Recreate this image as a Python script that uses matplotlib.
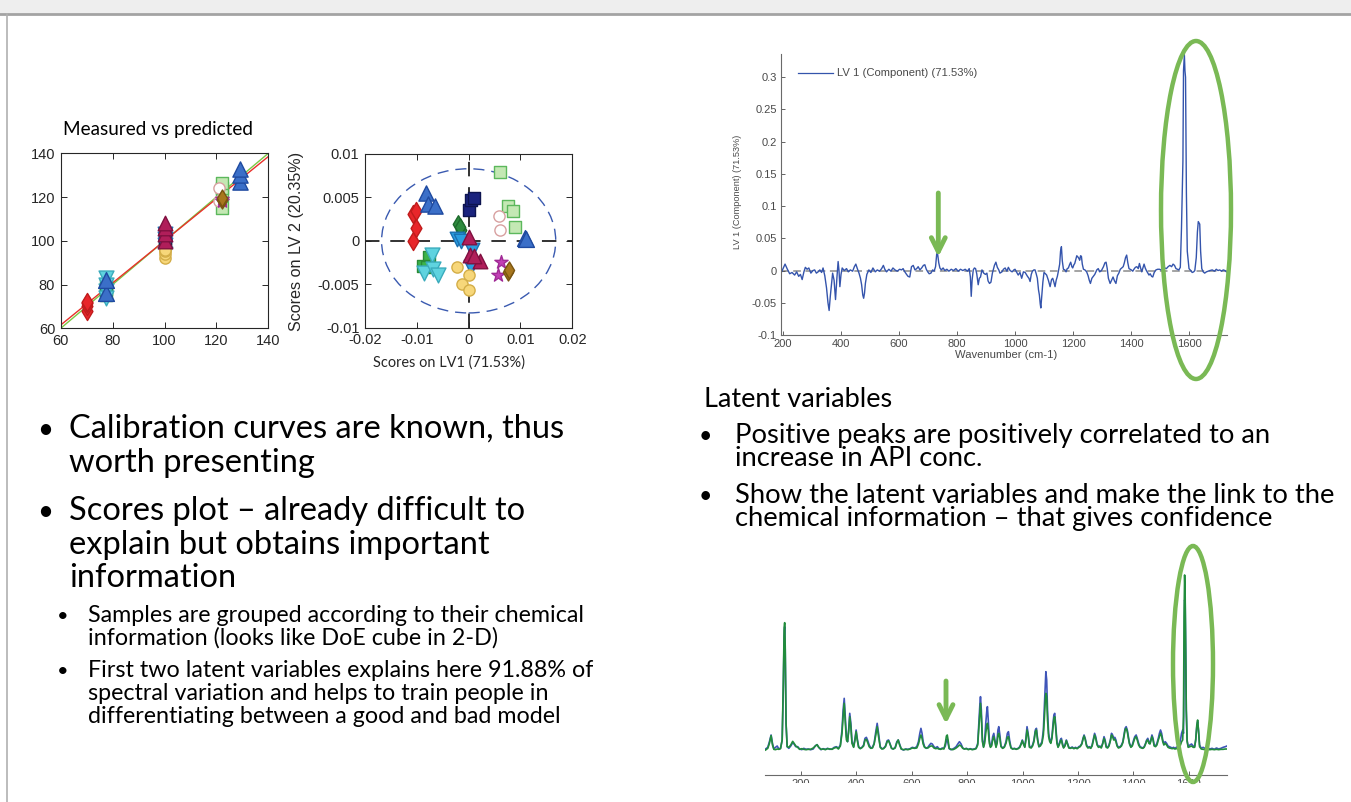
import matplotlib
matplotlib.use("Agg")
import matplotlib.pyplot as plt
from matplotlib.patches import Ellipse, Rectangle

# ---- data ----
# calibration (measured vs predicted) and scores, one entry per sample group
measured = [
    [70, 70, 70, 70],            # red diamonds
    [129, 129, 129],             # blue triangles
    [100, 100, 100],             # navy squares
    [100, 100, 100],             # dark green diamonds
    [100, 100, 100, 100],        # blue down triangles
    [100, 100, 100, 100],        # yellow circles
    [100, 100, 100, 100],        # maroon triangles
    [122, 122, 122, 122],        # light green squares
    [121, 121],                  # pink open circles
    [122, 122],                  # magenta stars
    [122, 122],                  # brown diamonds
    [77.5, 77.5, 77.5],          # green squares
    [77.5, 77.5, 77.5, 77.5],    # cyan down triangles
    [77.5, 77.5],                # blue triangles (right)
]
predicted = [
    [68, 70, 71.5, 72],
    [127, 130, 133],
    [100, 102, 101],
    [97, 99, 98],
    [94, 98, 101, 103],
    [92, 94, 95.5, 96],
    [100, 103, 106, 108],
    [115, 121, 124, 126.5],
    [118, 124],
    [118, 119],
    [118.5, 119.5],
    [75, 78, 80],
    [74, 77, 80, 83],
    [76, 82],
]
score_lv1 = [
    [-0.0107, -0.0102, -0.0108, -0.0101],
    [-0.0082, -0.0079, -0.0064],
    [0.0000, 0.0004, 0.0011],
    [-0.0020, -0.0014, -0.0017],
    [-0.0023, 0.0006, 0.0005, -0.0015],
    [-0.0023, 0.0000, -0.0012, 0.0000],
    [0.0000, 0.0003, 0.0022, 0.0010],
    [0.0060, 0.0075, 0.0086, 0.0089],
    [0.0059, 0.0060],
    [0.0062, 0.0057],
    [0.0075, 0.0077],
    [-0.0077, -0.0089, -0.0081],
    [-0.0071, -0.0087, -0.0069, -0.0059],
    [0.0108, 0.0110],
]
score_lv2 = [
    [0.0000, 0.0015, 0.0031, 0.0034],
    [0.0055, 0.0043, 0.0040],
    [0.0035, 0.0047, 0.0049],
    [0.0019, 0.0013, 0.0016],
    [0.0002, -0.0011, -0.0030, 0.0000],
    [-0.0030, -0.0039, -0.0050, -0.0057],
    [0.0005, -0.0016, -0.0023, -0.0017],
    [0.0079, 0.0040, 0.0034, 0.0016],
    [0.0029, 0.0013],
    [-0.0024, -0.0039],
    [-0.0036, -0.0033],
    [-0.0019, -0.0029, -0.0030],
    [-0.0016, -0.0037, -0.0032, -0.0039],
    [0.0003, 0.0002],
]
group_style = [
    ("d", "#e8262a", "#c01c1c", 85),
    ("^", "#3b6fc8", "#1f4aa0", 120),
    ("s", "#1a237e", "#0d1450", 70),
    ("d", "#2e8b3e", "#1e6a2c", 80),
    ("v", "#2a9de0", "#1a6fb0", 110),
    ("o", "#f7d77a", "#d4ae48", 65),
    ("^", "#b01e5a", "#801040", 110),
    ("s", "#c4e8b4", "#5cb85c", 75),
    ("o", "white", "#d8a0a0", 65),
    ("*", "#c23fb5", "#a02a95", 100),
    ("d", "#a8771e", "#7a5510", 75),
    ("s", "#3cb34a", "#2a8a35", 75),
    ("v", "#5fd3df", "#3aabbc", 115),
    ("^", "#3b6fc8", "#1f4aa0", 130),
]
fit_x = [60, 140]
fit_red = [61.5, 138.5]
fit_green = [60, 140]
ellipse_lv1, ellipse_lv2 = 0.0168, 0.0083

cal_ticks = [60, 80, 100, 120, 140]
sc_xticks = [-0.02, -0.01, 0, 0.01, 0.02]
sc_xlabels = ["-0.02", "-0.01", "0", "0.01", "0.02"]
sc_yticks = [-0.01, -0.005, 0, 0.005, 0.01]
sc_ylabels = ["-0.01", "-0.005", "0", "0.005", "0.01"]

# LV1 loading (wavenumber, value)
lv1_trace = [
    (193, -0.004), (207, 0.010), (215, 0.002), (223, -0.005), (231, -0.003), (240, -0.007),
    (247, -0.002), (254, -0.009), (260, -0.006), (266, -0.014), (272, -0.002), (277, 0.005),
    (283, 0.002), (289, 0.004), (296, -0.004), (303, 0.000), (309, 0.001), (315, -0.004),
    (321, -0.002), (327, 0.001), (333, -0.003), (338, 0.004), (344, -0.008), (350, -0.027),
    (355, -0.050), (359, -0.062), (363, -0.040), (367, -0.022), (371, -0.004), (376, -0.015),
    (381, -0.045), (386, -0.010), (390, 0.014), (393, 0.000), (396, -0.025), (400, -0.006),
    (404, 0.004), (411, 0.000), (419, 0.003), (425, -0.002), (432, 0.001), (440, -0.001),
    (446, 0.006), (451, 0.010), (457, 0.002), (462, -0.004), (467, -0.012), (471, -0.022),
    (475, -0.038), (478, -0.043), (481, -0.035), (484, -0.020), (489, -0.006), (496, 0.001),
    (503, -0.003), (510, 0.004), (518, -0.002), (525, 0.001), (533, -0.001), (540, 0.003),
    (546, 0.008), (551, 0.002), (557, -0.002), (565, 0.002), (572, -0.001), (579, 0.004),
    (586, 0.001), (594, -0.001), (602, 0.002), (609, 0.001), (614, 0.003), (620, -0.002),
    (626, -0.006), (631, -0.009), (637, -0.010), (643, 0.006), (649, 0.008), (655, 0.001),
    (661, 0.003), (666, 0.006), (672, 0.001), (678, 0.004), (684, 0.008), (689, 0.009),
    (694, 0.002), (699, -0.002), (704, -0.005), (710, -0.004), (716, 0.001), (721, -0.001),
    (726, 0.006), (730, 0.026), (733, 0.026), (737, 0.012), (741, 0.004), (746, 0.001),
    (752, 0.004), (758, 0.000), (765, 0.002), (772, -0.001), (780, 0.002), (788, 0.000),
    (796, 0.003), (804, -0.001), (812, 0.002), (820, 0.000), (828, 0.002), (836, -0.001),
    (842, 0.003), (846, -0.010), (849, -0.040), (852, -0.015), (856, 0.001), (860, 0.004),
    (864, 0.003), (868, -0.005), (873, -0.022), (877, -0.012), (881, -0.010), (886, 0.001),
    (892, -0.004), (898, -0.006), (903, -0.004), (907, -0.016), (912, -0.020), (917, -0.018),
    (922, -0.004), (929, 0.008), (934, 0.013), (939, 0.005), (944, 0.001), (948, -0.004),
    (955, -0.002), (960, 0.002), (966, 0.004), (972, -0.001), (977, 0.005), (983, 0.000),
    (990, -0.002), (996, 0.001), (1000, 0.002), (1006, -0.003), (1011, -0.007), (1017, -0.003),
    (1023, -0.012), (1029, -0.002), (1035, -0.003), (1043, -0.009), (1048, -0.012), (1052, -0.017),
    (1056, -0.006), (1060, -0.001), (1065, 0.001), (1069, 0.001), (1073, -0.005), (1077, -0.012),
    (1081, -0.030), (1084, -0.038), (1087, -0.052), (1089, -0.058), (1092, -0.040), (1096, -0.018),
    (1100, -0.003), (1105, -0.005), (1109, -0.007), (1115, -0.015), (1121, -0.025), (1126, -0.014),
    (1130, -0.012), (1134, -0.018), (1138, -0.025), (1142, -0.015), (1146, -0.009), (1150, 0.000),
    (1154, 0.010), (1157, 0.030), (1160, 0.037), (1163, 0.015), (1167, 0.002), (1172, 0.001),
    (1176, -0.002), (1180, 0.003), (1184, 0.004), (1188, 0.009), (1192, 0.013), (1196, 0.006),
    (1199, 0.004), (1203, 0.009), (1206, 0.011), (1210, 0.018), (1213, 0.023), (1217, 0.021),
    (1220, 0.019), (1223, 0.016), (1226, 0.023), (1229, 0.022), (1232, 0.010), (1236, 0.002),
    (1241, 0.001), (1247, -0.002), (1252, -0.008), (1256, -0.015), (1260, -0.020), (1265, -0.012),
    (1270, -0.009), (1275, -0.006), (1282, 0.001), (1287, 0.003), (1292, -0.002), (1298, 0.000),
    (1305, 0.006), (1310, 0.012), (1314, 0.013), (1318, 0.003), (1322, -0.012), (1328, -0.020),
    (1333, -0.015), (1338, -0.010), (1343, -0.016), (1348, -0.020), (1353, -0.008), (1358, -0.004),
    (1363, 0.002), (1368, 0.004), (1373, 0.006), (1377, 0.012), (1381, 0.020), (1385, 0.024),
    (1389, 0.012), (1393, 0.003), (1397, 0.002), (1401, 0.001), (1406, -0.001), (1410, 0.002),
    (1415, 0.005), (1420, 0.006), (1425, 0.003), (1429, 0.011), (1433, 0.004), (1437, -0.002),
    (1441, 0.004), (1445, 0.010), (1449, 0.004), (1453, 0.000), (1458, -0.004), (1462, -0.007),
    (1466, -0.005), (1471, -0.009), (1475, -0.010), (1480, -0.003), (1486, 0.001), (1492, 0.002),
    (1498, 0.002), (1504, 0.001), (1510, 0.002), (1516, 0.004), (1522, 0.003), (1528, 0.006),
    (1534, 0.008), (1540, 0.006), (1545, 0.010), (1550, 0.008), (1555, 0.003), (1560, 0.002),
    (1565, 0.001), (1570, 0.005), (1574, 0.065), (1577, 0.130), (1579, 0.170), (1581, 0.310),
    (1584, 0.335), (1586, 0.310), (1588, 0.300), (1591, 0.120), (1594, 0.030), (1600, 0.003),
    (1606, 0.000), (1611, -0.003), (1616, -0.002), (1620, 0.000), (1625, 0.020), (1629, 0.060),
    (1632, 0.076), (1637, 0.072), (1640, 0.030), (1644, 0.003), (1649, -0.002), (1654, -0.004),
    (1660, -0.002), (1666, -0.001), (1672, 0.000), (1680, 0.001), (1688, -0.001), (1694, 0.002),
    (1700, 0.000), (1706, 0.001), (1712, -0.001), (1718, 0.001), (1724, 0.000), (1729, -0.002),
]
lv_xticks = [200, 400, 600, 800, 1000, 1200, 1400, 1600]
lv_yticks = [-0.1, -0.05, 0, 0.05, 0.1, 0.15, 0.2, 0.25, 0.3]
lv_ylabels = ["-0.1", "-0.05", "0", "0.05", "0.1", "0.15", "0.2", "0.25", "0.3"]

# raw spectra (wavenumber, blue, green)
spectra_trace = [
    (72, 0.3, 0.0), (80, 0.8, 0.5), (86, 2.5, 2.0), (92, 4.5, 4.3), (97, 2.0, 1.5), (102, 0.3, 0.2),
    (108, 0.8, 0.1), (114, 1.2, 0.3), (120, 0.3, 0.2), (126, 0.5, 0.4), (132, 3.0, 3.0), (136, 18.0, 20.0),
    (139, 34.0, 36.0), (141, 37.0, 38.2), (143, 30.0, 31.0), (146, 8.0, 8.0), (150, 1.0, 1.0), (156, 0.5, 0.8),
    (163, 1.2, 1.5), (170, 2.2, 2.6), (175, 1.8, 2.0), (181, 1.0, 1.2), (188, 1.0, 0.8), (195, 0.3, 0.2),
    (203, 0.1, 0.4), (210, 0.5, 0.2), (218, 0.2, 0.1), (226, 0.3, 0.2), (235, 0.1, 0.2), (244, 0.3, 0.6),
    (252, 1.3, 1.2), (258, 1.6, 1.6), (264, 0.8, 0.8), (272, 0.1, 0.2), (280, 0.4, 0.3), (288, 0.2, 0.1),
    (296, 0.5, 0.4), (304, 0.2, 0.3), (312, 0.3, 0.2), (320, 0.8, 0.6), (328, 1.0, 0.8), (335, 0.5, 0.3),
    (342, 1.5, 1.2), (348, 6.0, 5.0), (352, 12.0, 10.0), (356, 15.5, 14.0), (360, 10.0, 8.0), (364, 4.0, 3.0),
    (368, 2.5, 2.5), (372, 6.0, 5.5), (376, 11.0, 10.0), (380, 8.0, 7.0), (384, 2.5, 2.0), (390, 1.0, 0.8),
    (395, 3.5, 3.0), (399, 6.0, 5.5), (403, 3.5, 3.0), (408, 1.0, 0.8), (414, 0.5, 0.4), (420, 0.8, 0.7),
    (426, 1.5, 1.2), (431, 3.5, 3.0), (436, 3.8, 3.2), (441, 2.8, 2.2), (446, 1.5, 1.0), (452, 0.6, 0.5),
    (458, 0.8, 0.6), (464, 2.0, 1.8), (470, 5.5, 4.5), (475, 8.0, 7.0), (480, 5.0, 4.0), (486, 1.0, 0.8),
    (492, 0.4, 0.3), (498, 0.5, 0.4), (505, 1.2, 1.0), (511, 2.8, 2.5), (516, 3.0, 2.8), (521, 2.0, 1.8),
    (527, 0.5, 0.5), (533, 0.3, 0.3), (540, 0.8, 0.6), (546, 2.5, 2.2), (551, 3.0, 3.0), (556, 1.8, 1.5),
    (562, 0.3, 0.3), (570, 0.0, 0.1), (578, 0.3, 0.2), (586, 0.2, 0.1), (594, 0.4, 0.3), (602, 0.8, 0.6),
    (610, 0.6, 0.5), (618, 1.0, 0.6), (624, 2.5, 1.8), (629, 5.0, 3.5), (633, 6.5, 4.5), (637, 5.0, 3.5),
    (641, 2.5, 1.8), (646, 1.0, 0.8), (652, 0.5, 0.6), (658, 0.8, 0.6), (664, 1.5, 1.0), (669, 2.0, 1.2),
    (674, 1.8, 1.2), (680, 1.0, 0.6), (686, 0.6, 0.4), (692, 1.0, 0.5), (698, 0.4, 0.3), (704, 0.3, 0.2),
    (710, 0.6, 0.4), (716, 0.5, 0.3), (721, 1.2, 2.0), (725, 3.0, 4.2), (728, 3.2, 4.5), (731, 2.0, 3.0),
    (735, 0.4, 0.5), (741, 0.1, 0.2), (748, 0.3, 0.1), (754, 0.6, 0.3), (760, 1.0, 0.6), (766, 1.8, 1.0),
    (772, 2.5, 1.5), (778, 1.8, 1.2), (784, 0.6, 0.5), (790, 0.3, 0.3), (797, 0.5, 0.4), (804, 0.2, 0.1),
    (811, 0.4, 0.3), (818, 0.2, 0.1), (825, 0.3, 0.2), (832, 0.5, 0.4), (838, 2.0, 1.5), (842, 8.0, 6.5),
    (846, 14.0, 12.0), (848, 16.0, 14.0), (851, 12.0, 10.0), (855, 3.0, 2.5), (859, 1.0, 0.8), (863, 3.0, 2.0),
    (867, 8.0, 5.0), (871, 12.0, 7.5), (873, 13.0, 8.0), (876, 9.0, 6.0), (880, 3.0, 2.0), (884, 1.0, 0.8),
    (888, 1.5, 1.2), (892, 4.0, 3.0), (896, 5.0, 4.0), (900, 3.0, 2.5), (904, 1.0, 0.8), (908, 3.0, 2.0),
    (911, 6.0, 4.5), (914, 7.0, 5.0), (918, 4.5, 3.5), (922, 1.2, 1.0), (928, 0.6, 0.5), (934, 1.0, 0.8),
    (940, 2.5, 2.0), (945, 5.0, 3.8), (949, 5.5, 4.0), (953, 3.0, 2.2), (958, 0.8, 0.6), (964, 0.3, 0.3),
    (970, 0.5, 0.4), (977, 0.3, 0.2), (984, 0.5, 0.4), (990, 1.0, 0.8), (995, 2.0, 1.8), (999, 3.0, 2.8),
    (1003, 2.0, 1.8), (1008, 1.0, 0.8), (1012, 3.5, 3.0), (1016, 7.0, 6.0), (1020, 5.0, 4.5), (1025, 1.0, 0.8),
    (1031, 0.8, 0.6), (1036, 1.5, 1.2), (1041, 3.0, 2.5), (1046, 6.0, 5.5), (1050, 6.5, 6.0), (1054, 3.5, 3.0),
    (1059, 1.0, 1.0), (1064, 1.5, 1.2), (1070, 2.5, 2.0), (1075, 6.0, 4.5), (1079, 14.0, 10.0), (1082, 20.0, 15.0),
    (1084, 23.5, 17.0), (1087, 21.0, 16.0), (1090, 12.0, 9.0), (1094, 5.0, 4.0), (1098, 3.0, 2.5), (1102, 2.5, 2.0),
    (1106, 4.0, 3.5), (1110, 8.0, 7.0), (1113, 10.5, 9.5), (1116, 11.0, 10.0), (1120, 7.0, 6.0), (1124, 2.5, 2.0),
    (1128, 1.0, 0.8), (1132, 1.8, 1.5), (1136, 3.0, 2.5), (1140, 3.5, 3.0), (1144, 2.0, 1.5), (1148, 0.8, 0.6),
    (1153, 1.5, 1.2), (1158, 3.0, 2.8), (1162, 2.0, 1.8), (1167, 0.8, 0.6), (1173, 0.6, 0.5), (1179, 0.9, 0.7),
    (1185, 0.5, 0.4), (1191, 0.8, 0.6), (1197, 0.5, 0.4), (1203, 1.0, 0.8), (1208, 1.2, 1.0), (1214, 2.0, 1.8),
    (1218, 3.5, 3.2), (1222, 4.5, 4.2), (1226, 3.5, 3.2), (1231, 1.5, 1.2), (1236, 0.8, 0.6), (1241, 1.0, 0.8),
    (1246, 0.6, 0.5), (1251, 1.5, 1.2), (1256, 3.5, 3.0), (1260, 5.0, 4.5), (1264, 4.0, 3.5), (1269, 1.8, 1.5),
    (1274, 1.0, 0.8), (1279, 1.2, 1.0), (1284, 0.8, 0.6), (1289, 2.0, 1.8), (1294, 4.0, 3.5), (1298, 3.0, 2.5),
    (1302, 1.0, 0.8), (1307, 0.8, 0.6), (1312, 1.5, 1.2), (1317, 3.0, 2.8), (1321, 5.0, 4.5), (1325, 4.5, 4.0),
    (1329, 3.5, 3.0), (1333, 3.8, 3.2), (1337, 3.0, 2.5), (1341, 1.5, 1.2), (1346, 0.8, 0.6), (1352, 1.0, 0.8),
    (1357, 1.5, 1.2), (1362, 2.5, 2.2), (1366, 4.5, 4.0), (1370, 6.5, 6.0), (1374, 7.0, 6.5), (1378, 6.0, 5.5),
    (1382, 4.0, 3.5), (1386, 2.0, 1.8), (1391, 1.0, 0.8), (1396, 1.5, 1.2), (1401, 3.0, 2.5), (1405, 4.0, 3.5),
    (1410, 4.5, 4.0), (1414, 3.5, 3.0), (1419, 2.0, 1.5), (1424, 1.0, 0.8), (1429, 0.8, 0.6), (1434, 0.6, 0.5),
    (1439, 1.0, 0.8), (1444, 2.0, 1.8), (1448, 3.0, 2.8), (1452, 3.5, 3.0), (1456, 2.5, 2.0), (1460, 2.0, 1.8),
    (1464, 3.5, 3.0), (1467, 4.5, 4.0), (1471, 3.5, 3.0), (1475, 1.5, 1.2), (1480, 1.2, 1.0), (1485, 2.0, 1.5),
    (1490, 3.5, 3.0), (1494, 5.0, 4.0), (1498, 6.0, 5.0), (1502, 5.0, 4.2), (1506, 3.0, 2.5), (1510, 2.0, 1.5),
    (1515, 2.5, 2.0), (1520, 2.0, 1.5), (1525, 1.2, 0.8), (1530, 1.0, 0.6), (1535, 0.8, 0.5), (1540, 0.6, 0.4),
    (1545, 0.8, 0.5), (1550, 0.5, 0.3), (1555, 0.8, 0.4), (1560, 1.0, 0.5), (1565, 1.5, 0.8), (1570, 3.0, 1.5),
    (1574, 5.0, 2.5), (1578, 6.0, 3.0), (1581, 5.0, 10.0), (1583, 25.0, 40.0), (1585, 45.0, 52.5), (1587, 44.0, 46.0),
    (1589, 30.0, 30.0), (1591, 12.0, 12.0), (1594, 3.0, 2.5), (1598, 1.0, 0.8), (1604, 1.5, 1.0), (1610, 1.8, 1.2),
    (1616, 1.2, 0.8), (1621, 1.0, 0.8), (1625, 3.0, 3.0), (1629, 7.0, 7.5), (1632, 8.5, 9.0), (1635, 6.0, 6.0),
    (1639, 1.5, 1.0), (1645, 0.5, 0.3), (1652, 0.8, 0.2), (1660, 0.4, 0.1), (1668, 0.6, 0.2), (1676, 0.3, 0.1),
    (1684, 0.5, 0.2), (1692, 0.2, 0.1), (1700, 0.6, 0.2), (1708, 0.3, 0.1), (1716, 0.5, 0.2), (1724, 0.8, 0.2),
    (1732, 1.0, 0.3), (1738, 1.2, 0.3),
]

# ---- figure ----
W, H = 1351, 802
fig = plt.figure(figsize=(W / 100, H / 100), dpi=100)
MATLAB_FONT = "Liberation Sans"
SLIDE_FONT = "Lato"
GREEN = "#7ab955"


def px_axes(left, top, right, bottom):
    return fig.add_axes([left / W, 1 - bottom / H, (right - left) / W, (bottom - top) / H])


def matlab_box(ax, size):
    for sp in ax.spines.values():
        sp.set_color("#262626")
        sp.set_linewidth(0.8)
    ax.tick_params(direction="in", top=True, right=True, length=4, width=0.7,
                   labelsize=size, colors="#262626", pad=4)
    for lab in ax.get_xticklabels() + ax.get_yticklabels():
        lab.set_fontfamily(MATLAB_FONT)


# measured vs predicted
ax1 = px_axes(60.7, 153.3, 268.3, 328.3)
ax1.plot(fit_x, fit_green, color="#7ac943", lw=1.0, zorder=1)
ax1.plot(fit_x, fit_red, color="#e8302a", lw=1.0, zorder=1)
for (mk, fc, ec, s), mx, py in zip(group_style, measured, predicted):
    ax1.scatter(mx, py, s=s, marker=mk, facecolors=fc, edgecolors=ec, linewidths=1.0, zorder=3)
ax1.set_xlim(60, 140)
ax1.set_ylim(60, 140)
ax1.set_xticks(cal_ticks)
ax1.set_yticks(cal_ticks)
matlab_box(ax1, 10.5)

# scores plot
ax2 = px_axes(365, 154, 572.3, 327.7)
ax2.add_patch(Ellipse((0, 0), 2 * ellipse_lv1, 2 * ellipse_lv2, fill=False,
                      ec="#3a5ab0", lw=1.0, ls=(0, (8, 5))))
ax2.axhline(0, color="#222222", lw=1.3, dashes=(8, 6), zorder=1)
ax2.axvline(0, color="#222222", lw=1.3, dashes=(8, 6), zorder=1)
for (mk, fc, ec, s), sx, sy in zip(group_style, score_lv1, score_lv2):
    ax2.scatter(sx, sy, s=s, marker=mk, facecolors=fc, edgecolors=ec, linewidths=1.0, zorder=3)
ax2.set_xlim(-0.02, 0.02)
ax2.set_ylim(-0.01, 0.01)
ax2.set_xticks(sc_xticks)
ax2.set_xticklabels(sc_xlabels)
ax2.set_yticks(sc_yticks)
ax2.set_yticklabels(sc_ylabels)
matlab_box(ax2, 10.5)

# LV1 loading plot
lv_wn = [p[0] for p in lv1_trace]
lv_val = [p[1] for p in lv1_trace]
ax3 = px_axes(781, 54, 1227, 335)
ax3.axhline(0, color="#8a8a8a", lw=1.1, dashes=(5, 3), zorder=1)
ax3.plot(lv_wn, lv_val, color="#3454ac", lw=1.0, zorder=2)
ax3.set_xlim(193, 1731)
ax3.set_ylim(-0.1, 0.336)
ax3.set_xticks(lv_xticks)
ax3.set_yticks(lv_yticks)
ax3.set_yticklabels(lv_ylabels)
for side in ("top", "right"):
    ax3.spines[side].set_visible(False)
for side in ("left", "bottom"):
    ax3.spines[side].set_color("#6a6a6a")
    ax3.spines[side].set_linewidth(0.8)
ax3.tick_params(direction="in", length=3, width=0.6, labelsize=8, colors="#4a4a4a", pad=3)
for lab in ax3.get_xticklabels() + ax3.get_yticklabels():
    lab.set_fontfamily(MATLAB_FONT)

# raw spectra
sp_wn = [p[0] for p in spectra_trace]
sp_blue = [p[1] for p in spectra_trace]
sp_green = [p[2] for p in spectra_trace]
ax4 = px_axes(765, 560, 1227, 775)
ax4.plot(sp_wn, sp_blue, color="#3f55b8", lw=1.2)
ax4.plot(sp_wn, sp_green, color="#218c3c", lw=1.2)
ax4.set_xlim(70, 1738)
ax4.set_ylim(-7.5, 57)
ax4.set_xticks(lv_xticks)
ax4.set_yticks([])
for side in ("top", "right", "left"):
    ax4.spines[side].set_visible(False)
ax4.spines["bottom"].set_color("#6a6a6a")
ax4.tick_params(direction="in", length=3, width=0.6, labelsize=8, colors="#4a4a4a", pad=3)
for lab in ax4.get_xticklabels():
    lab.set_fontfamily(MATLAB_FONT)

# ---- overlay in pixel coordinates: frame, text, annotations ----
ov = fig.add_axes([0, 0, 1, 1])
ov.set_xlim(0, W)
ov.set_ylim(H, 0)
ov.axis("off")
ov.set_zorder(10)

ov.add_patch(Rectangle((0, 0), W, 14, color="#eeeeee", lw=0))
ov.plot([0, W], [14, 14], color="#a3a3a3", lw=2)
ov.plot([7, 7], [14, H], color="#b0b0b0", lw=1.2)
ov.add_patch(Rectangle((740, 782.5), 500, 20, color="white", lw=0, zorder=1))

renderer = fig.canvas.get_renderer()


def text_width(s, family):
    t = ov.text(0, 0, s, fontfamily=family, fontsize=10)
    w = t.get_window_extent(renderer).width
    t.remove()
    return w


def fit(s, family, target):
    return 10 * target / text_width(s, family)


def put(x, y, s, size, family=SLIDE_FONT, **kw):
    ov.text(x, y, s, fontsize=size, fontfamily=family, va="baseline", ha="left",
            color=kw.pop("color", "black"), **kw)


# left column bullets
fs = fit("Calibration curves are known, thus", SLIDE_FONT, 497)
for y, bullet, line in [
    (438, True, "Calibration curves are known, thus"),
    (471.5, False, "worth presenting"),
    (520, True, "Scores plot \u2013 already difficult to"),
    (553.5, False, "explain but obtains important"),
    (587, False, "information"),
]:
    if bullet:
        put(37, y, "\u2022", fs * 0.85)
    put(69, y, line, fs)

fs = fit("Samples are grouped according to their chemical", SLIDE_FONT, 497)
for y, bullet, line in [
    (622, True, "Samples are grouped according to their chemical"),
    (645, False, "information (looks like DoE cube in 2-D)"),
    (677, True, "First two latent variables explains here 91.88% of"),
    (700, False, "spectral variation and helps to train people in"),
    (723, False, "differentiating between a good and bad model"),
]:
    if bullet:
        put(57, y, "\u2022", fs * 0.85)
    put(88, y, line, fs)

# right column text
put(704, 407, "Latent variables", fit("Latent variables", SLIDE_FONT, 188))
fs = fit("Show the latent variables and make the link to the", SLIDE_FONT, 602)
for y, bullet, line in [
    (443, True, "Positive peaks are positively correlated to an"),
    (466, False, "increase in API conc."),
    (503, True, "Show the latent variables and make the link to the"),
    (526, False, "chemical information \u2013 that gives confidence"),
]:
    if bullet:
        put(699, y, "\u2022", fs * 0.85)
    put(735, y, line, fs)

# axis titles and labels
put(62.7, 135, "Measured vs predicted", fit("Measured vs predicted", SLIDE_FONT, 190))
put(372.7, 366.5, "Scores on LV1 (71.53%)", fit("Scores on LV1 (71.53%)", SLIDE_FONT, 152),
    color="#262626")
ov.text(296.7, 241.7, "Scores on LV 2 (20.35%)", rotation=90, ha="center", va="center",
        fontfamily=MATLAB_FONT, color="#262626",
        fontsize=fit("Scores on LV 2 (20.35%)", MATLAB_FONT, 180))
ov.text(738, 191.7, "LV 1 (Component) (71.53%)", rotation=90, ha="center", va="center",
        fontfamily=MATLAB_FONT, color="#4a4a4a",
        fontsize=fit("LV 1 (Component) (71.53%)", MATLAB_FONT, 113))
ov.text(1006, 358, "Wavenumber (cm-1)", ha="center", va="baseline", fontfamily=MATLAB_FONT,
        color="#4a4a4a", fontsize=fit("Wavenumber (cm-1)", MATLAB_FONT, 102))
ov.plot([798, 833], [73.3, 73.3], color="#3454ac", lw=0.9)
ov.text(837, 73.3, "LV 1 (Component) (71.53%)", ha="left", va="center", fontfamily=MATLAB_FONT,
        color="#4a4a4a", fontsize=fit("LV 1 (Component) (71.53%)", MATLAB_FONT, 141))

# green highlights
ov.add_patch(Ellipse((1196, 210), 70, 338, fill=False, ec=GREEN, lw=3.2, zorder=3))
ov.add_patch(Ellipse((1193, 664), 40, 236, fill=False, ec=GREEN, lw=3.2, zorder=3))
arrow = dict(arrowstyle="->,head_length=1.0,head_width=0.5", color=GREEN, lw=3.5,
             shrinkA=0, shrinkB=0)
ov.annotate("", xy=(938.3, 257), xytext=(938.3, 193), arrowprops=arrow)
ov.annotate("", xy=(946, 724), xytext=(946, 681), arrowprops=arrow)

fig.savefig("out.png", dpi=100, facecolor="white")
